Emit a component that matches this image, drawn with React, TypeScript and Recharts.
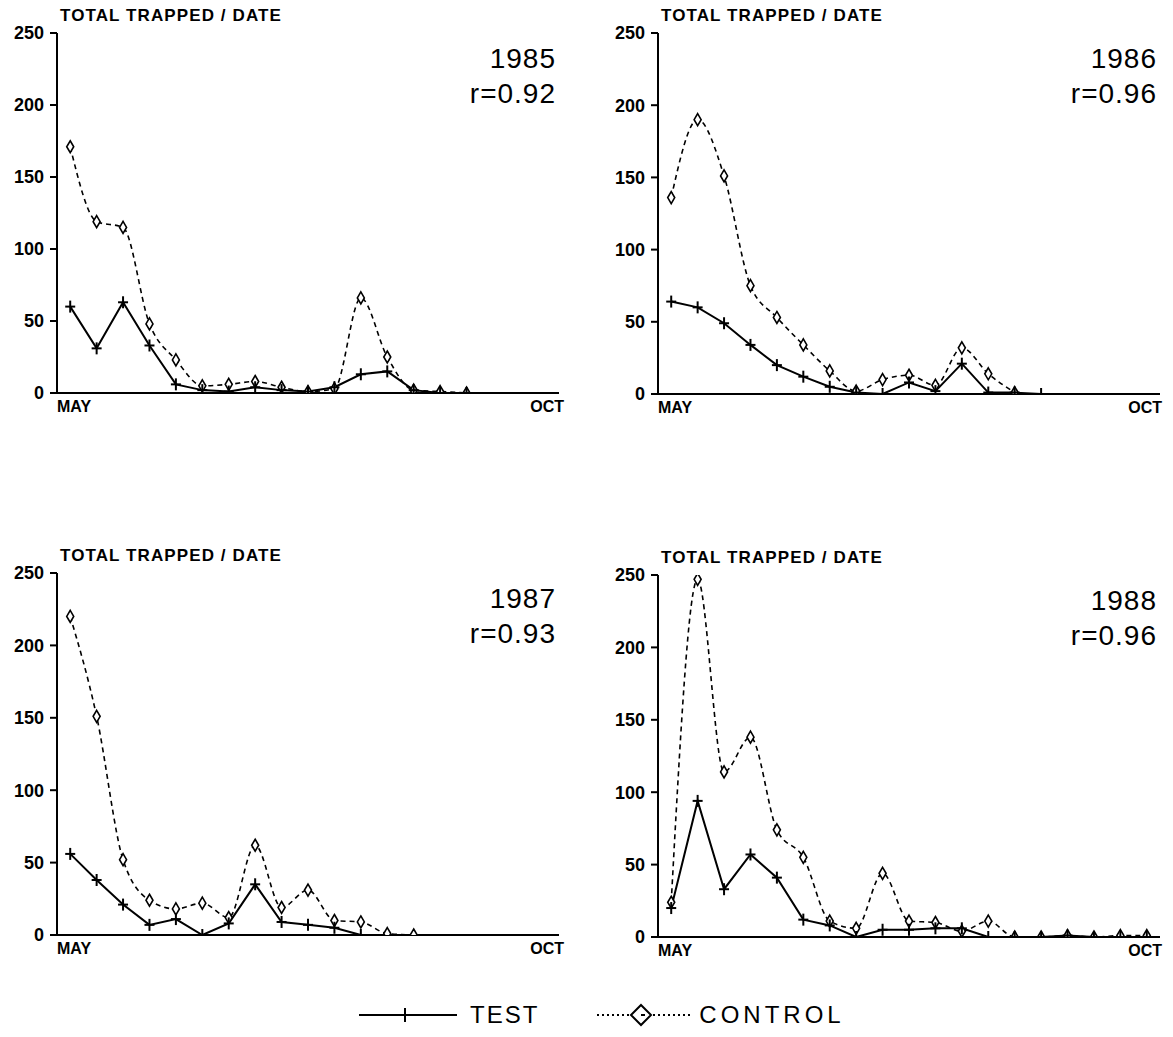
import { LineChart, Line, XAxis, YAxis } from 'recharts';

const Y_TICKS = [0, 50, 100, 150, 200, 250];
const MONTHS = ['MAY', 'OCT'];
const TITLE = 'TOTAL TRAPPED / DATE';

const YEARS = ['1985', '1986', '1987', '1988'];
const R_VALUES = ['r=0.92', 'r=0.96', 'r=0.93', 'r=0.96'];

// weekly totals, starting early May
const TEST_1985 = [60, 31, 63, 33, 6, 2, 1, 4, 2, 1, 4, 13, 15, 2, 0, 0];
const CONTROL_1985 = [171, 119, 115, 48, 23, 5, 6, 8, 4, 1, 3, 66, 25, 2, 1, 0];

const TEST_1986 = [64, 60, 49, 34, 20, 12, 5, 1, 0, 8, 2, 21, 1, 1, 0];
const CONTROL_1986 = [136, 190, 151, 75, 53, 34, 16, 2, 10, 13, 6, 32, 14, 1];

const TEST_1987 = [56, 38, 21, 7, 11, 0, 8, 35, 9, 7, 5, 0];
const CONTROL_1987 = [220, 151, 52, 24, 18, 22, 12, 62, 19, 31, 10, 9, 1, 0];

const TEST_1988 = [20, 94, 33, 57, 41, 12, 8, 0, 5, 5, 6, 6, 0, 0, 0, 1, 0, 0, 0];
const CONTROL_1988 = [24, 247, 114, 138, 74, 55, 11, 6, 44, 11, 10, 4, 11, 0, 0, 1, 0, 1, 1];

const FONT = '"Liberation Sans", Arial, sans-serif';

function CrossDot(props: any) {
  const { cx, cy, payload } = props;
  if (cx == null || cy == null || payload?.test == null) return null;
  return (
    <g stroke="#000" strokeWidth={2}>
      <line x1={cx - 5} y1={cy} x2={cx + 5} y2={cy} />
      <line x1={cx} y1={cy - 6} x2={cx} y2={cy + 6} />
    </g>
  );
}

function DiamondDot(props: any) {
  const { cx, cy, payload } = props;
  if (cx == null || cy == null || payload?.control == null) return null;
  return (
    <path
      d={`M${cx},${cy - 6} L${cx + 3.5},${cy} L${cx},${cy + 6} L${cx - 3.5},${cy} Z`}
      fill="#fff"
      stroke="#000"
      strokeWidth={1.6}
    />
  );
}

function MonthTick(props: any) {
  const { x, y, index } = props;
  const first = index === 0;
  return (
    <text
      x={first ? x : x + 5}
      y={y - 2}
      dy={13}
      textAnchor={first ? 'start' : 'end'}
      fontFamily={FONT}
      fontWeight="bold"
      fontSize={16}
      fill="#000"
    >
      {MONTHS[index]}
    </text>
  );
}

interface PanelProps {
  left: number;
  top: number;
  width: number;
  plotHeight: number;
  test: number[];
  control: number[];
  year: string;
  r: string;
}

function Panel({ left, top, width, plotHeight, test, control, year, r }: PanelProps) {
  const n = Math.max(test.length, control.length);
  const rows = Array.from({ length: n }, (_, i) => ({
    week: i,
    test: test[i],
    control: control[i],
  }));
  const yAxisW = 57;
  const rightMargin = width - yAxisW - 502;
  const height = 33 + plotHeight + 30 + 15;
  const plotRight = left + width - rightMargin;

  return (
    <>
      <div
        style={{
          position: 'absolute',
          left: left + 60,
          top: top + 7,
          fontFamily: FONT,
          fontWeight: 'bold',
          fontSize: 17,
          lineHeight: 1,
          letterSpacing: 1.1,
          whiteSpace: 'nowrap',
        }}
      >
        {TITLE}
      </div>
      <div
        style={{
          position: 'absolute',
          left: plotRight - 203,
          top: top + 41,
          width: 200,
          textAlign: 'right',
          fontFamily: FONT,
          fontSize: 28,
          lineHeight: '35px',
          letterSpacing: 1,
        }}
      >
        <div>{year}</div>
        <div>{r}</div>
      </div>
      <div style={{ position: 'absolute', left, top }}>
        <LineChart
          width={width}
          height={height}
          data={rows}
          margin={{ top: 33, right: rightMargin, left: 0, bottom: 15 }}
        >
          <XAxis
            dataKey="week"
            type="number"
            domain={[-0.5, 18.5]}
            ticks={[-0.5, 18.5]}
            tick={<MonthTick />}
            tickLine={false}
            axisLine={{ stroke: '#000', strokeWidth: 2 }}
            height={30}
            allowDataOverflow
          />
          <YAxis
            type="number"
            domain={[0, 250]}
            ticks={Y_TICKS}
            width={yAxisW}
            tickSize={7}
            tickMargin={6}
            tick={{ fontFamily: FONT, fontWeight: 'bold', fontSize: 18, fill: '#000' }}
            tickLine={{ stroke: '#000', strokeWidth: 2 }}
            axisLine={{ stroke: '#000', strokeWidth: 2 }}
            allowDataOverflow
          />
          <Line
            type="monotone"
            dataKey="control"
            stroke="#000"
            strokeWidth={1.6}
            strokeDasharray="5 4"
            dot={<DiamondDot />}
            activeDot={false}
            isAnimationActive={false}
          />
          <Line
            type="linear"
            dataKey="test"
            stroke="#000"
            strokeWidth={2}
            dot={<CrossDot />}
            activeDot={false}
            isAnimationActive={false}
          />
        </LineChart>
      </div>
    </>
  );
}

function Legend() {
  const text = {
    fontFamily: FONT,
    fontSize: 24,
    letterSpacing: 2,
    lineHeight: '30px',
  } as const;
  return (
    <div
      style={{
        position: 'absolute',
        left: 357,
        top: 1000,
        display: 'flex',
        alignItems: 'center',
      }}
    >
      <svg width={100} height={30}>
        <line x1={2} y1={15} x2={100} y2={15} stroke="#000" strokeWidth={2} />
        <line x1={48} y1={8} x2={48} y2={22} stroke="#000" strokeWidth={2} />
      </svg>
      <span style={{ ...text, marginLeft: 13 }}>TEST</span>
      <svg width={96} height={30} style={{ marginLeft: 56 }}>
        <line x1={2} y1={15} x2={36} y2={15} stroke="#000" strokeWidth={2} strokeDasharray="2 3" />
        <path d="M46,5 L56,15 L46,25 L36,15 Z" fill="#fff" stroke="#000" strokeWidth={2} />
        <line x1={46} y1={15} x2={50} y2={15} stroke="#000" strokeWidth={2} />
        <line x1={58} y1={15} x2={96} y2={15} stroke="#000" strokeWidth={2} strokeDasharray="2 3" />
      </svg>
      <span style={{ ...text, marginLeft: 8, letterSpacing: 4 }}>CONTROL</span>
    </div>
  );
}

export default function App() {
  return (
    <div
      style={{
        position: 'absolute',
        left: 0,
        top: 0,
        width: 1173,
        height: 1037,
        background: '#fff',
        overflow: 'hidden',
      }}
    >
      <Panel left={0} top={0} width={580} plotHeight={360} test={TEST_1985} control={CONTROL_1985} year={YEARS[0]} r={R_VALUES[0]} />
      <Panel left={601} top={0} width={570} plotHeight={361} test={TEST_1986} control={CONTROL_1986} year={YEARS[1]} r={R_VALUES[1]} />
      <Panel left={0} top={540} width={580} plotHeight={362} test={TEST_1987} control={CONTROL_1987} year={YEARS[2]} r={R_VALUES[2]} />
      <Panel left={601} top={542} width={570} plotHeight={362} test={TEST_1988} control={CONTROL_1988} year={YEARS[3]} r={R_VALUES[3]} />
      <Legend />
    </div>
  );
}
